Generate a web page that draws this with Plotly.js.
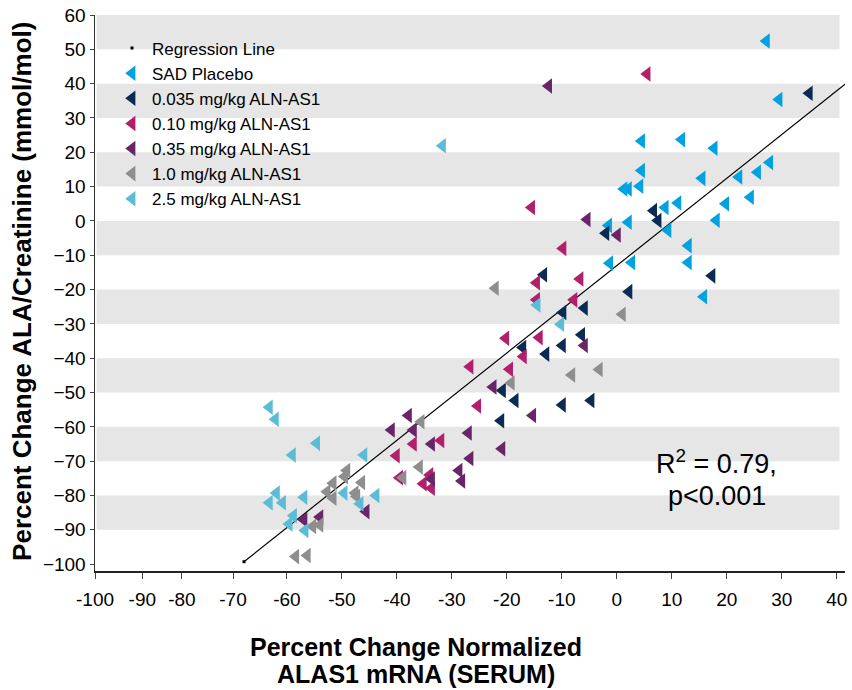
<!DOCTYPE html>
<html>
<head>
<meta charset="utf-8">
<script src="https://cdn.plot.ly/plotly-3.0.1.min.js"></script>
<style>html,body{margin:0;padding:0;background:#fff}</style>
</head>
<body>
<div id="chart" style="width:852px;height:690px"></div>
<script>
// ---- data ----
const placeboX = [27.2, 29.5, 4.5, 11.8, 17.7, 27.8, 25.6, 22.2, 15.5, 4.5, 4.2, 1.3, 2.1, 24.3, 19.8, 11.1, 8.8, 18.1, 2.1, -1.5, 9.3, 13.0, -1.3, 2.7, 13.0, 15.8];
const placeboY = [52.4, 35.4, 23.3, 23.7, 21.2, 17.0, 14.2, 12.8, 12.4, 14.7, 10.1, 9.3, 9.3, 6.9, 5.0, 5.2, 3.9, 0.2, -0.4, -1.3, -2.7, -7.2, -12.3, -12.1, -12.1, -22.1];

const dose0035X = [35.0, 6.7, 7.5, -2.0, -13.3, 17.3, 2.2, -9.8, -5.9, -6.4, -17.1, -9.9, -12.9, -20.8, -18.5, -4.7, -9.9, -21.1];
const dose0035Y = [37.2, 3.0, 0.1, -3.6, -15.7, -16.0, -20.6, -26.7, -25.4, -33.2, -36.9, -36.3, -38.8, -49.4, -52.3, -52.3, -53.6, -58.2];

const dose010X = [5.5, -15.5, -9.8, -14.6, -6.7, -14.6, -7.8, -20.2, -14.1, -17.0, -19.5, -26.7, -25.3, -32.0, -37.0, -40.1, -34.0, -39.5, -35.2, -33.7];
const dose010Y = [42.8, 3.9, -8.0, -18.0, -16.9, -23.0, -23.0, -34.2, -34.0, -39.5, -43.2, -42.5, -53.9, -64.0, -65.0, -68.4, -74.0, -74.8, -76.6, -77.9];

const dose035X = [-12.4, -5.4, 0.1, -5.9, -22.5, -15.3, -27.0, -20.9, -26.7, -28.7, -28.2, -37.9, -41.0, -37.0, -33.7, -33.7, -45.6, -56.9, -54.0];
const dose035Y = [39.3, 0.4, -4.1, -36.3, -48.4, -56.7, -61.8, -66.4, -69.2, -72.7, -75.8, -56.7, -60.9, -60.9, -65.0, -75.2, -84.7, -87.1, -86.3];

const dose10X = [-22.1, 1.0, -8.2, -3.2, -19.2, -35.6, -35.9, -38.9, -49.1, -49.5, -51.6, -46.4, -52.7, -47.6, -51.6, -47.3, -55.3, -54.0, -58.4, -56.3];
const dose10Y = [-19.6, -27.2, -44.9, -43.3, -47.2, -58.5, -71.7, -74.8, -72.7, -74.5, -76.4, -76.2, -78.9, -79.3, -80.8, -80.3, -89.0, -88.6, -97.8, -97.5];

const dose25X = [-31.7, -14.5, -10.2, -63.2, -62.1, -54.6, -59.0, -46.0, -49.6, -43.8, -46.7, -61.9, -63.2, -60.8, -56.9, -58.8, -59.6, -56.7];
const dose25Y = [21.9, -24.5, -30.1, -54.3, -57.8, -64.8, -68.2, -68.2, -79.3, -80.0, -82.4, -79.3, -82.1, -82.1, -80.5, -85.9, -88.3, -90.2];

const regX = [-67.8, 41.5];
const regY = [-99.3, 39.8];

const seriesNames = ['SAD Placebo', '0.035 mg/kg ALN-AS1', '0.10 mg/kg ALN-AS1', '0.35 mg/kg ALN-AS1', '1.0 mg/kg ALN-AS1', '2.5 mg/kg ALN-AS1'];
const seriesColors = ['#00A3DF', '#0B2B52', '#B21F6B', '#6A2569', '#8E8E8E', '#5CBCD6'];

const xTickVals = [-94.9, -86.3, -79.1, -69.8, -60, -50, -40, -30, -20, -10, 0, 10, 20, 30, 40];
const xTickText = ['-100', '-90', '-80', '-70', '-60', '-50', '-40', '-30', '-20', '-10', '0', '10', '20', '30', '40'];
const yTickVals = [-100, -90, -80, -70, -60, -50, -40, -30, -20, -10, 0, 10, 20, 30, 40, 50, 60];

const bandLows  = [50, 30, 10, -10, -30, -50, -70, -90];
const bandHighs = [60, 40, 20, 0, -20, -40, -60, -80];

const statLine1 = 'R<sup>2</sup> = 0.79,';
const statLine2 = 'p&lt;0.001';
const xTitle1 = 'Percent Change Normalized';
const xTitle2 = 'ALAS1 mRNA (SERUM)';
const yTitle = 'Percent Change ALA/Creatinine (mmol/mol)';

// ---- chart ----
const FONT = 'Liberation Sans, Arial, sans-serif';
const seriesX = [placeboX, dose0035X, dose010X, dose035X, dose10X, dose25X];
const seriesY = [placeboY, dose0035Y, dose010Y, dose035Y, dose10Y, dose25Y];

const traces = [];
traces.push({
  x: regX, y: regY, mode: 'lines', type: 'scatter', showlegend: false,
  line: {color: '#000', width: 1.2}, hoverinfo: 'skip'
});
traces.push({
  x: [regX[0]], y: [regY[0]], mode: 'markers', type: 'scatter', name: 'Regression Line',
  marker: {symbol: 'square', size: 3, color: '#000'}
});
for (let i = 0; i < seriesNames.length; i++) {
  traces.push({
    x: seriesX[i], y: seriesY[i], mode: 'markers', type: 'scatter', name: seriesNames[i],
    marker: {symbol: 'triangle-left', size: 13.5, color: seriesColors[i], line: {width: 0}}
  });
}

const shapes = bandLows.map((lo, i) => ({
  type: 'rect', xref: 'x', yref: 'y', layer: 'below',
  x0: -94.6, x1: 40.5, y0: lo, y1: bandHighs[i],
  fillcolor: '#E6E6E6', line: {width: 0}
}));

const layout = {
  width: 852, height: 690,
  margin: {l: 95, r: 7, t: 15, b: 119},
  paper_bgcolor: '#fff', plot_bgcolor: '#fff',
  font: {family: FONT, size: 18, color: '#000'},
  showlegend: true,
  legend: {
    x: 0.0227, y: 0.972, xanchor: 'left', yanchor: 'top',
    bgcolor: 'rgba(0,0,0,0)', borderwidth: 0,
    font: {family: FONT, size: 17, color: '#000'},
    itemwidth: 30, tracegroupgap: 0
  },
  xaxis: {
    range: [-94.9, 41.5], showgrid: false, zeroline: false,
    showline: true, linecolor: '#222', linewidth: 1.5,
    ticks: 'outside', ticklen: 6, tickcolor: '#444', tickwidth: 1,
    ticklabelstandoff: 5,
    tickvals: xTickVals, ticktext: xTickText,
    tickfont: {family: FONT, size: 19, color: '#000'}
  },
  yaxis: {
    range: [-102, 60], showgrid: false, zeroline: false,
    showline: true, linecolor: '#333', linewidth: 1.5,
    ticks: 'outside', ticklen: 4, tickcolor: '#444', tickwidth: 1,
    tickvals: yTickVals,
    tickfont: {family: FONT, size: 19, color: '#000'}
  },
  shapes: shapes,
  annotations: [
    {text: statLine1, xref: 'paper', yref: 'paper', x: 0.829, y: 0.196, xanchor: 'center', yanchor: 'middle',
     showarrow: false, font: {family: FONT, size: 27, color: '#000'}},
    {text: statLine2, xref: 'paper', yref: 'paper', x: 0.829, y: 0.134, xanchor: 'center', yanchor: 'middle',
     showarrow: false, font: {family: FONT, size: 27, color: '#000'}},
    {text: '<b>' + xTitle1 + '</b>', xref: 'paper', yref: 'paper', x: 0.428, y: -0.137, xanchor: 'center', yanchor: 'middle',
     showarrow: false, font: {family: FONT, size: 25, color: '#000'}},
    {text: '<b>' + xTitle2 + '</b>', xref: 'paper', yref: 'paper', x: 0.428, y: -0.186, xanchor: 'center', yanchor: 'middle',
     showarrow: false, font: {family: FONT, size: 25, color: '#000'}},
    {text: '<b>' + yTitle + '</b>', xref: 'paper', yref: 'paper', x: -0.0973, y: 0.502, xanchor: 'center', yanchor: 'middle',
     textangle: -90, showarrow: false, font: {family: FONT, size: 26, color: '#000'}}
  ]
};

Plotly.newPlot('chart', traces, layout, {displayModeBar: false, staticPlot: true});
</script>
</body>
</html>
